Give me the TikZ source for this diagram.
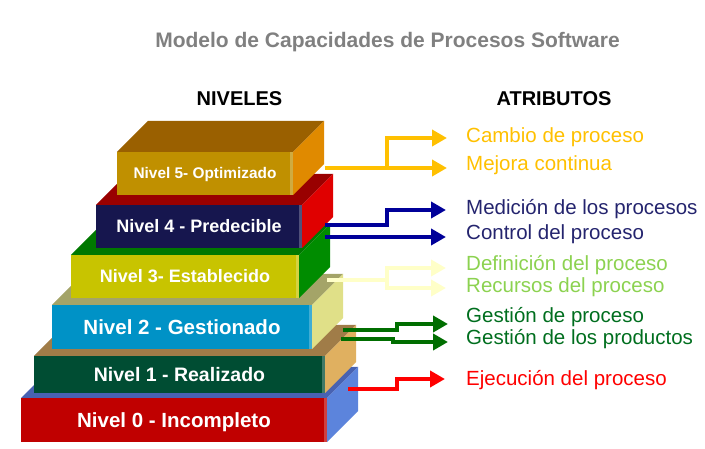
\documentclass[tikz,border=0pt]{standalone}
\usepackage{fontspec}
\setmainfont{Liberation Sans}
\usetikzlibrary{arrows.meta}
\definecolor{titlegray}{RGB}{128,128,128}
\definecolor{fzero}{RGB}{192,0,0}
\definecolor{tzero}{RGB}{72,98,178}
\definecolor{szero}{RGB}{92,132,220}
\definecolor{fone}{RGB}{0,77,51}
\definecolor{tone}{RGB}{160,124,72}
\definecolor{sone}{RGB}{224,176,96}
\definecolor{ftwo}{RGB}{0,146,198}
\definecolor{ttwo}{RGB}{164,164,104}
\definecolor{stwo}{RGB}{224,224,136}
\definecolor{fthree}{RGB}{200,196,0}
\definecolor{tthree}{RGB}{0,120,0}
\definecolor{sthree}{RGB}{0,140,0}
\definecolor{ffour}{RGB}{22,22,78}
\definecolor{tfour}{RGB}{153,0,0}
\definecolor{sfour}{RGB}{224,0,0}
\definecolor{ffive}{RGB}{192,144,0}
\definecolor{tfive}{RGB}{154,96,0}
\definecolor{sfive}{RGB}{224,138,0}
\definecolor{ayellow}{RGB}{255,192,0}
\definecolor{ablue}{RGB}{0,0,153}
\definecolor{tblue}{RGB}{36,36,110}
\definecolor{apale}{RGB}{255,255,200}
\definecolor{tpale}{RGB}{140,210,80}
\definecolor{agreen}{RGB}{0,110,0}
\definecolor{tgreen}{RGB}{0,110,30}
\definecolor{ared}{RGB}{255,0,0}
\newcommand{\levelbox}[8]{%
  % #1 x1, #2 y1, #3 x2, #4 y2, #5 front, #6 top, #7 side, #8 name
  \fill[#6] (#1,#2) -- ({#1+31},{#2-31}) -- ({#3+31},{#2-31}) -- (#3,#2) -- cycle;
  \fill[#7] (#3,#2) -- ({#3+31},{#2-31}) -- ({#3+31},{#4-31}) -- (#3,#4) -- cycle;
  \fill[#5] (#1,#2) rectangle (#3,#4);
  \fill[white,opacity=0.25] ({#3-3},#2) rectangle (#3,#4);
  \coordinate (#8) at ({(#1+#3)/2},{(#2+#4)/2});
}
\tikzset{
  lvltext/.style={text=white,font=\bfseries\fontsize{#1}{#1}\selectfont,inner sep=0pt,anchor=base},
  attr/.style={font=\fontsize{20.5}{22}\selectfont,inner sep=0pt,anchor=base west},
  conn/.style={line width=4pt,draw=#1,-{Triangle[length=15pt 0,width=16pt 0]},miter limit=10},
  connl/.style={line width=4pt,draw=#1}
}
\begin{document}
\begin{tikzpicture}[x=1pt,y=-1pt]
\useasboundingbox (0,0) rectangle (705,449);
% title
\node[text=titlegray,font=\bfseries\fontsize{21}{21}\selectfont,inner sep=0pt,anchor=base] (title) at (387.5,48) {Modelo de Capacidades de Procesos Software};
\node[font=\bfseries\fontsize{20}{20}\selectfont,inner sep=0pt,anchor=base] (niveles) at (239.5,105.5) {NIVELES};
\node[font=\bfseries\fontsize{20}{20}\selectfont,inner sep=0pt,anchor=base] (atributos) at (554,105.5) {ATRIBUTOS};
% levels
\levelbox{21}{398}{327}{442}{fzero}{tzero}{szero}{c0}
\levelbox{34}{356}{325}{393}{fone}{tone}{sone}{c1}
\levelbox{52}{305}{312}{349}{ftwo}{ttwo}{stwo}{c2}
\levelbox{71}{255}{299}{298}{fthree}{tthree}{sthree}{c3}
\levelbox{96}{205}{302}{248}{ffour}{tfour}{sfour}{c4}
\levelbox{117}{152}{293}{195}{ffive}{tfive}{sfive}{c5}
\node[lvltext=20.5] (l0) at ([yshift=-7.4pt]c0) {Nivel 0 - Incompleto};
\node[lvltext=19.5] (l1) at ([yshift=-7pt]c1) {Nivel 1 - Realizado};
\node[lvltext=20.5] (l2) at ([yshift=-7.4pt]c2) {Nivel 2 - Gestionado};
\node[lvltext=18] (l3) at ([yshift=-6.5pt]c3) {Nivel 3- Establecido};
\node[lvltext=18] (l4) at ([yshift=-6.5pt]c4) {Nivel 4 - Predecible};
\node[lvltext=15.4] (l5) at ([yshift=-5.5pt]c5) {Nivel 5- Optimizado};
% attribute texts
\node[attr,text=ayellow] (a1) at (466,142.5) {Cambio de proceso};
\node[attr,text=ayellow] (a2) at (466,170.5) {Mejora continua};
\node[attr,text=tblue] (a3) at (466,214.5) {Medición de los procesos};
\node[attr,text=tblue] (a4) at (466,239.5) {Control del proceso};
\node[attr,text=tpale] (a5) at (466,270.5) {Definición del proceso};
\node[attr,text=tpale] (a6) at (466,292.5) {Recursos del proceso};
\node[attr,text=tgreen] (a7) at (466,322.5) {Gestión de proceso};
\node[attr,text=tgreen] (a8) at (466,344.5) {Gestión de los productos};
\node[attr,text=ared] (a9) at (466,385.5) {Ejecución del proceso};
% connector coordinates
\coordinate (s5) at (325,168);   \coordinate (k5) at (387,168);
\coordinate (t1) at (447,138);   \coordinate (t2) at (447,168);
\coordinate (s4a) at (325,225);  \coordinate (s4b) at (325,237);
\coordinate (t3) at (446,210);   \coordinate (t4) at (446,237);
\coordinate (s3) at (327,280);   \coordinate (k3) at (387,280);
\coordinate (t5) at (446,268);   \coordinate (t6) at (446,288);
\coordinate (s2a) at (343,330);  \coordinate (s2b) at (341,339);
\coordinate (t7) at (448,324);   \coordinate (t8) at (448,342);
\coordinate (s1) at (348,389);   \coordinate (t9) at (445,379);
% connectors
\draw[connl=ayellow] (s5) -- (k5);
\draw[conn=ayellow] (k5) -- (387,138) -- (t1);
\draw[conn=ayellow] (k5) -- (t2);
\draw[conn=ablue] (s4a) -- (387,225) -- (387,210) -- (t3);
\draw[conn=ablue] (s4b) -- (t4);
\draw[connl=apale] (s3) -- (k3);
\draw[conn=apale] (k3) -- (387,268) -- (t5);
\draw[conn=apale] (k3) -- (387,288) -- (t6);
\draw[conn=agreen] (s2a) -- (397,330) -- (397,324) -- (t7);
\draw[conn=agreen] (s2b) -- (393,339) -- (393,342) -- (t8);
\draw[conn=ared] (s1) -- (397,389) -- (397,379) -- (t9);
\end{tikzpicture}
\end{document}
